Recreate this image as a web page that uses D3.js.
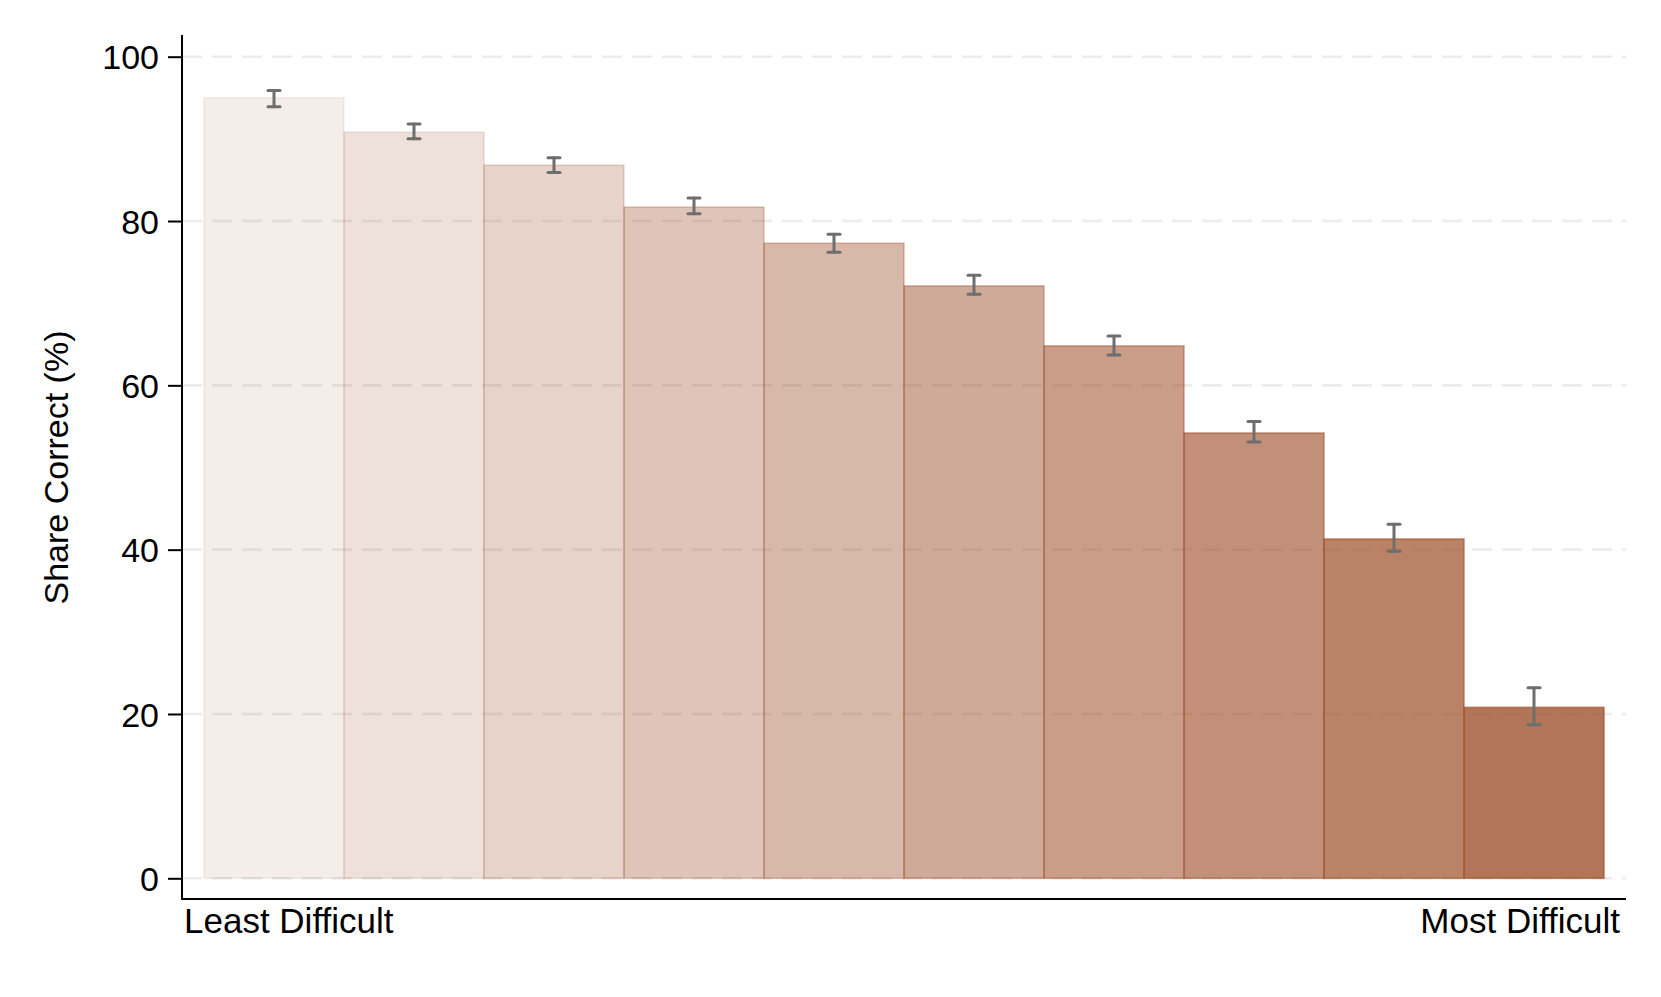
<!DOCTYPE html>
<html>
<head>
<meta charset="utf-8">
<script src="https://cdn.jsdelivr.net/npm/d3@7"></script>
<style>
  html, body { margin: 0; padding: 0; background: #fff; }
  svg { display: block; font-family: "Liberation Sans", Arial, Helvetica, sans-serif; }
</style>
</head>
<body>
<svg id="chart" width="1661" height="997"></svg>
<script>
// ---- data ----
const categories = ["1", "2", "3", "4", "5", "6", "7", "8", "9", "10"];
const shareCorrect = [95.0, 90.8, 86.8, 81.7, 77.3, 72.1, 64.8, 54.2, 41.3, 20.8];
const errLow  = [93.9, 90.0, 85.9, 80.9, 76.2, 71.1, 63.7, 53.1, 39.8, 18.7];
const errHigh = [95.9, 91.8, 87.7, 82.8, 78.4, 73.4, 66.0, 55.6, 43.1, 23.2];
const yTicks = [0, 20, 40, 60, 80, 100];
const xEndLabels = ["Least Difficult", "Most Difficult"];
const yTitle = "Share Correct (%)";

// ---- layout ----
const plotLeft = 182, plotRight = 1626, plotTop = 35, plotBottom = 899;
const svg = d3.select("#chart");

const x = d3.scaleBand().domain(categories).range([204, 1604]).padding(0);
const y = d3.scaleLinear().domain([0, 100]).range([878.3, 56.7]);
const opacity = d3.scaleLinear().domain([0, categories.length - 1]).range([0.1, 0.8]);
const base = "rgb(160,82,45)";
const fontSize = 34;

// gridlines
svg.append("g").selectAll("line").data(yTicks).join("line")
  .attr("x1", plotLeft).attr("x2", plotRight)
  .attr("y1", d => y(d)).attr("y2", d => y(d))
  .attr("stroke", "#ececec").attr("stroke-width", 2.6)
  .attr("stroke-dasharray", "20,10");

// bars
svg.append("g").selectAll("rect").data(shareCorrect).join("rect")
  .attr("x", (d, i) => x(categories[i]))
  .attr("y", d => y(d))
  .attr("width", x.bandwidth())
  .attr("height", d => y(0) - y(d))
  .attr("fill", base)
  .attr("fill-opacity", (d, i) => opacity(i))
  .attr("stroke", base)
  .attr("stroke-opacity", (d, i) => opacity(i) * 0.85)
  .attr("stroke-width", 1.6);

// error bars
const eb = svg.append("g").attr("stroke", "#6e6e6e").attr("stroke-width", 3).attr("stroke-linecap", "round");
categories.forEach((c, i) => {
  const cx = x(c) + x.bandwidth() / 2;
  eb.append("line").attr("x1", cx).attr("x2", cx).attr("y1", y(errLow[i])).attr("y2", y(errHigh[i]));
  eb.append("line").attr("x1", cx - 6).attr("x2", cx + 6).attr("y1", y(errLow[i])).attr("y2", y(errLow[i]));
  eb.append("line").attr("x1", cx - 6).attr("x2", cx + 6).attr("y1", y(errHigh[i])).attr("y2", y(errHigh[i]));
});

// y axis
const yAxis = d3.axisLeft(y).tickValues(yTicks).tickSize(14).tickPadding(9).tickSizeOuter(0);
const gy = svg.append("g").attr("transform", `translate(${plotLeft},0)`).call(yAxis);
gy.select(".domain").remove();
gy.selectAll(".tick line").attr("stroke", "#000").attr("stroke-width", 2);
gy.selectAll(".tick text").attr("fill", "#000").attr("font-size", fontSize)
  .attr("font-family", "Liberation Sans, Arial, sans-serif").attr("dy", "0.36em");

// axis lines
svg.append("line").attr("x1", plotLeft).attr("x2", plotLeft).attr("y1", plotTop).attr("y2", plotBottom + 1)
  .attr("stroke", "#000").attr("stroke-width", 2);
svg.append("line").attr("x1", plotLeft - 1).attr("x2", plotRight).attr("y1", plotBottom).attr("y2", plotBottom)
  .attr("stroke", "#000").attr("stroke-width", 2);

// x end labels
svg.append("text").attr("x", 184).attr("y", 933).attr("font-size", 35).attr("fill", "#000")
  .attr("text-anchor", "start").text(xEndLabels[0]);
svg.append("text").attr("x", 1620).attr("y", 933).attr("font-size", 35).attr("fill", "#000")
  .attr("text-anchor", "end").text(xEndLabels[1]);

// y title
svg.append("text").attr("transform", `translate(68,${(y(0) + y(100)) / 2}) rotate(-90)`)
  .attr("text-anchor", "middle").attr("font-size", fontSize).attr("fill", "#000").text(yTitle);
</script>
</body>
</html>
